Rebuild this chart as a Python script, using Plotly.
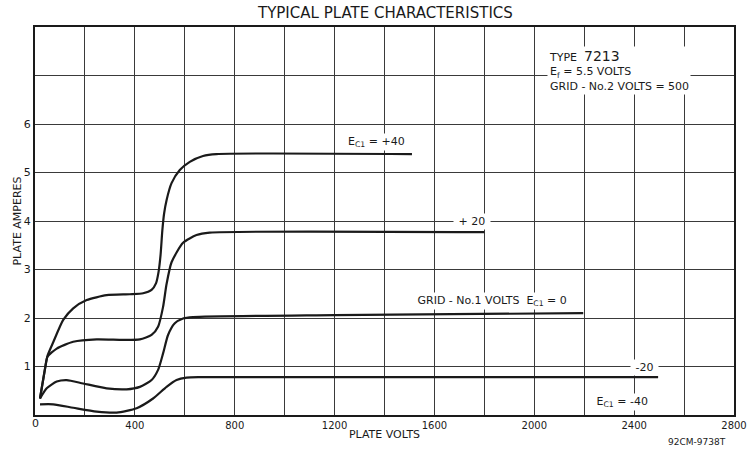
import plotly.graph_objects as go

# plate volts / plate amperes, one pair per grid voltage
v_p40 = [20, 40, 50, 73, 113, 153, 207, 287, 380, 433, 467, 485, 495, 503, 510, 517, 527, 547, 580, 620, 673, 727, 1510]
a_p40 = [0.34, 0.95, 1.22, 1.5, 1.96, 2.2, 2.37, 2.47, 2.49, 2.51, 2.58, 2.72, 2.95, 3.3, 3.8, 4.15, 4.43, 4.78, 5.05, 5.22, 5.34, 5.38, 5.38]

v_p20 = [20, 40, 50, 87, 153, 247, 353, 420, 467, 493, 513, 527, 547, 593, 647, 700, 1800]
a_p20 = [0.34, 0.95, 1.2, 1.37, 1.51, 1.56, 1.55, 1.56, 1.65, 1.82, 2.23, 2.7, 3.15, 3.55, 3.71, 3.76, 3.77]

v_0 = [20, 47, 87, 127, 193, 287, 367, 420, 467, 493, 513, 533, 560, 593, 633, 1200, 2196]
a_0 = [0.34, 0.55, 0.69, 0.72, 0.65, 0.55, 0.53, 0.58, 0.72, 0.93, 1.27, 1.65, 1.89, 1.99, 2.02, 2.06, 2.1]

v_m20 = [20, 73, 153, 247, 327, 407, 473, 527, 567, 607, 660, 2496]
a_m20 = [0.22, 0.22, 0.15, 0.07, 0.05, 0.14, 0.34, 0.58, 0.72, 0.77, 0.78, 0.78]

x_ticks = list(range(0, 2801, 200))
x_labels = [str(v) if v % 400 == 0 and v > 0 else "" for v in x_ticks]
y_ticks = list(range(0, 9))
y_labels = ["", "1", "2", "3", "4", "5", "6", "", ""]

ink = "#1a1a1a"
fnt = "DejaVu Sans"

fig = go.Figure()
for vx, ay in [(v_p40, a_p40), (v_p20, a_p20), (v_0, a_0), (v_m20, a_m20)]:
    fig.add_trace(go.Scatter(x=vx, y=ay, mode="lines", line=dict(color=ink, width=2.2, shape="spline", smoothing=0.6),
                             showlegend=False, hoverinfo="skip"))

ax = dict(showline=True, mirror=True, linecolor=ink, linewidth=2, gridcolor="#3a3a3a", gridwidth=1.2,
          zeroline=False, ticks="", automargin=False)
fig.update_xaxes(range=[0, 2800], tickmode="array", tickvals=x_ticks, ticktext=x_labels,
                 tickfont=dict(family=fnt, size=10, color=ink), **ax)
fig.update_yaxes(range=[0, 8], tickmode="array", tickvals=y_ticks, ticktext=y_labels, ticklabelstandoff=0,
                 tickfont=dict(family=fnt, size=11, color=ink), **ax)

notes = [
    (1490, 5.62, "E<sub>C1</sub> = +40", "right"),
    (1750, 3.98, " + 20 ", "center"),
    (1830, 2.35, " GRID - No.1 VOLTS  E<sub>C1</sub> = 0 ", "center"),
    (2440, 0.97, " -20 ", "center"),
    (2350, 0.27, " E<sub>C1</sub> = -40 ", "center"),
]
for x, y, t, al in notes:
    fig.add_annotation(x=x, y=y, text=t, showarrow=False, xanchor=al, bgcolor="white",
                       font=dict(family=fnt, size=11, color=ink))

fig.add_annotation(x=2050, y=7.6, xanchor="left", yanchor="top", align="left", showarrow=False, bgcolor="white",
                   text="TYPE  <span style='font-size:14px'>7213</span><br>E<sub>f</sub> = 5.5 VOLTS<br>GRID - No.2 VOLTS = 500",
                   font=dict(family=fnt, size=11, color=ink))

fig.add_annotation(xref="paper", yref="paper", x=0.5, y=1.0, yanchor="middle", yshift=14, showarrow=False,
                   text="TYPICAL PLATE CHARACTERISTICS", font=dict(family=fnt, size=15, color=ink))
fig.add_annotation(xref="paper", yref="paper", x=1.0, y=0, yshift=-27, xshift=-6, xanchor="right", yanchor="middle",
                   showarrow=False, text="92CM-9738T", font=dict(family=fnt, size=9, color=ink))
fig.add_annotation(xref="paper", yref="paper", x=0, y=0, xshift=-5, yshift=-8, yanchor="middle", showarrow=False,
                   text="0", font=dict(family=fnt, size=11, color=ink))

fig.update_layout(
    width=752, height=450,
    margin=dict(l=35, r=18, t=27, b=35),
    paper_bgcolor="white", plot_bgcolor="white",
    xaxis_title=dict(text="PLATE VOLTS", font=dict(family=fnt, size=11, color=ink), standoff=0),
    yaxis_title=dict(text="PLATE AMPERES", font=dict(family=fnt, size=11, color=ink), standoff=0),
)

# drop the page's default body margin so the figure sits at the window's corner
fig.write_html("out.html", config={"displayModeBar": False},
               post_script="document.body.style.margin='0';document.body.style.overflow='hidden';")
